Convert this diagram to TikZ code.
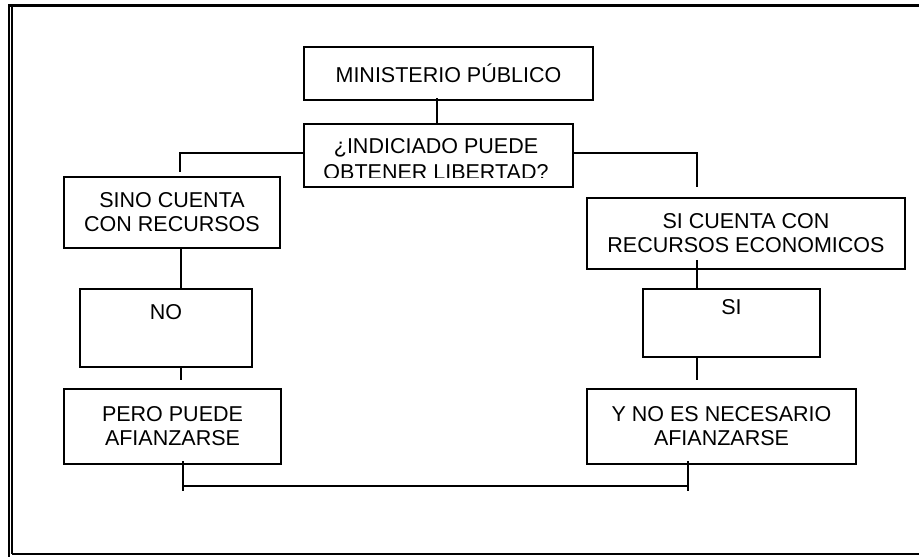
\documentclass[tikz,border=0pt]{standalone}
\usepackage{fontspec}
\setmainfont{Liberation Sans}
\usepackage{tikz}
\usetikzlibrary{calc}

\begin{document}
\begin{tikzpicture}[
  x=1pt, y=-1pt,
  box/.style  = {rectangle, draw=black, line width=2pt, inner sep=0pt,
                 text centered, align=center,
                 font=\fontsize{21.5}{24}\selectfont},
  txt/.style  = {inner sep=0pt, align=center,
                 font=\fontsize{21.5}{26}\selectfont},
  conn/.style = {draw=black, line width=1.8pt},
  frame/.style = {draw=black},
]
  \useasboundingbox (0,0) rectangle (919,557);

  \draw[frame, line width=3pt] (8,5.5) -- (919,5.5);
  \draw[frame, line width=2pt] (9,4) -- (9,557);
  \draw[frame, line width=1.2pt] (12,7) -- (12,554);
  \draw[frame, line width=2pt] (12,554) -- (919,554);

  \node[box, minimum width=289pt, minimum height=53pt] (mp) at (448.5,73.5)
    {MINISTERIO PÚBLICO};
  \node[box, minimum width=269pt, minimum height=63pt] (ind) at (438.5,155.5) {};
  \begin{scope}
    \clip ([xshift=1pt,yshift=-1pt]ind.north west) rectangle ([yshift=11pt]ind.south east);
    \node[txt] (indtxt) at (436,159) {¿INDICIADO PUEDE\\OBTENER LIBERTAD?};
  \end{scope}

  \node[box, minimum width=216pt, minimum height=71pt] (sino) at (172,212.5)
    {SINO CUENTA\\CON RECURSOS};
  \node[box, minimum width=172pt, minimum height=78pt] (no) at (166,328)
    {NO\\ \strut};
  \node[box, minimum width=217pt, minimum height=75pt] (pero) at (172.5,426.5)
    {PERO PUEDE\\AFIANZARSE};

  \node[box, minimum width=318pt, minimum height=71pt] (sic) at (746,233.5)
    {SI CUENTA CON\\RECURSOS ECONOMICOS};
  \node[box, minimum width=177pt, minimum height=68pt] (si) at (731.5,323)
    {SI\\ \strut};
  \node[box, minimum width=269pt, minimum height=75pt] (yno) at (721.5,426.5)
    {Y NO ES NECESARIO\\AFIANZARSE};

  \draw[conn] ([xshift=-11.5pt,yshift=3pt]mp.south) -- ([xshift=-11.5pt]mp.south |- ind.north);
  \draw[conn] ([yshift=2.5pt]ind.west) -| ([xshift=8pt,yshift=4pt]sino.north);
  \draw[conn] ([yshift=2.5pt]ind.east) -| ([xshift=-49pt,yshift=10pt]sic.north);

  \draw[conn] ([xshift=9pt]sino.south) -- ([xshift=9pt]sino.south |- no.north);
  \draw[conn] ([xshift=15pt,yshift=2pt]no.south) -- ++(0,14);
  \draw[conn] ([xshift=-49pt,yshift=10pt]sic.south) -- ([xshift=-49pt]sic.south |- si.north);
  \draw[conn] ([xshift=-34.5pt,yshift=2pt]si.south) -- ++(0,24);

  \draw[conn] ([xshift=10.5pt,yshift=4pt]pero.south) -- ++(0,30);
  \draw[conn] ([xshift=-33.5pt,yshift=4pt]yno.south) -- ++(0,30);
  \draw[conn] ([xshift=10.5pt,yshift=-21pt]pero.south) -- ([xshift=-33.5pt,yshift=-21pt]yno.south);
\end{tikzpicture}
\end{document}
